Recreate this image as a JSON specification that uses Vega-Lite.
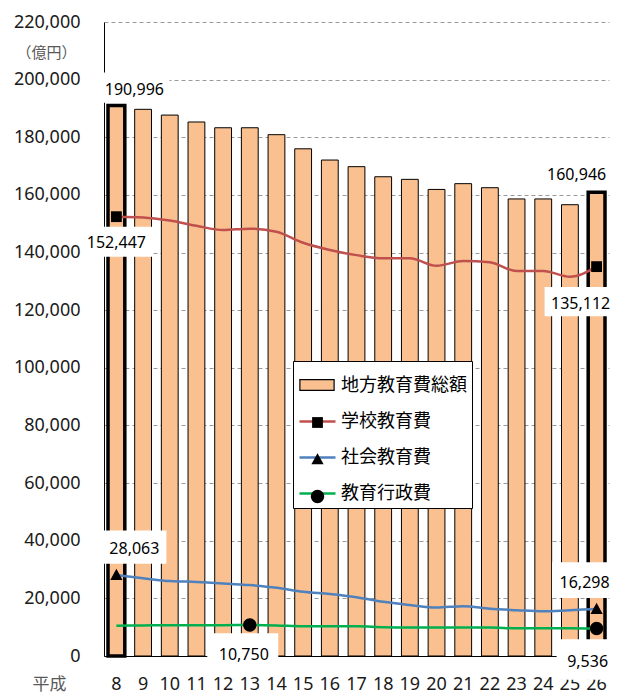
{
  "$schema": "https://vega.github.io/schema/vega-lite/v6.json",
  "width": 505,
  "height": 634,
  "autosize": "none",
  "padding": {"left": 104, "top": 22, "right": 9, "bottom": 40},
  "background": "white",
  "config": {"view": {"stroke": null}, "font": "Noto Sans", "bar": {"stroke": "#000000"}},
  "data": {"values": [
    {"year": 8, "地方教育費総額": 190996, "学校教育費": 152447, "社会教育費": 28063, "教育行政費": 10500},
    {"year": 9, "地方教育費総額": 189700, "学校教育費": 152200, "社会教育費": 27000, "教育行政費": 10600},
    {"year": 10, "地方教育費総額": 187700, "学校教育費": 151100, "社会教育費": 26000, "教育行政費": 10700},
    {"year": 11, "地方教育費総額": 185300, "学校教育費": 149300, "社会教育費": 25700, "教育行政費": 10700},
    {"year": 12, "地方教育費総額": 183300, "学校教育費": 147800, "社会教育費": 25200, "教育行政費": 10700},
    {"year": 13, "地方教育費総額": 183300, "学校教育費": 148300, "社会教育費": 24600, "教育行政費": 10750},
    {"year": 14, "地方教育費総額": 180900, "学校教育費": 147200, "社会教育費": 23700, "教育行政費": 10600},
    {"year": 15, "地方教育費総額": 176000, "学校教育費": 143400, "社会教育費": 22300, "教育行政費": 10300},
    {"year": 16, "地方教育費総額": 172100, "学校教育費": 140900, "社会教育費": 21500, "教育行政費": 10300},
    {"year": 17, "地方教育費総額": 169800, "学校教育費": 139100, "社会教育費": 20400, "教育行政費": 10300},
    {"year": 18, "地方教育費総額": 166300, "学校教育費": 138000, "社会教育費": 18800, "教育行政費": 10000},
    {"year": 19, "地方教育費総額": 165400, "学校教育費": 138000, "社会教育費": 17700, "教育行政費": 9900},
    {"year": 20, "地方教育費総額": 161900, "学校教育費": 135400, "社会教育費": 16800, "教育行政費": 9900},
    {"year": 21, "地方教育費総額": 163900, "学校教育費": 137100, "社会教育費": 17300, "教育行政費": 9900},
    {"year": 22, "地方教育費総額": 162500, "学校教育費": 136600, "社会教育費": 16400, "教育行政費": 9900},
    {"year": 23, "地方教育費総額": 158600, "学校教育費": 133600, "社会教育費": 15900, "教育行政費": 9600},
    {"year": 24, "地方教育費総額": 158600, "学校教育費": 133600, "社会教育費": 15500, "教育行政費": 9600},
    {"year": 25, "地方教育費総額": 156600, "学校教育費": 131600, "社会教育費": 15900, "教育行政費": 9600},
    {"year": 26, "地方教育費総額": 160946, "学校教育費": 135112, "社会教育費": 16298, "教育行政費": 9536}
  ]},
  "transform": [
    {"fold": ["地方教育費総額", "学校教育費", "社会教育費", "教育行政費"], "as": ["series", "value"]}
  ],
  "encoding": {
    "x": {
      "field": "year", "type": "ordinal",
      "scale": {"paddingInner": 0.37, "paddingOuter": 0.15},
      "axis": {
        "title": "平成", "titleX": -55, "titleY": 20, "titleAlign": "center", "titleBaseline": "top", "titleAngle": 0,
        "titleFont": "Noto Sans CJK JP", "titleFontSize": 17, "titleFontWeight": "normal", "titleColor": "#595959",
        "labelAngle": 0, "labelFont": "Noto Sans", "labelFontSize": 18, "labelColor": "#1a1a1a", "labelPadding": 19,
        "labelOverlap": false, "ticks": false, "domainColor": "#000000", "domainWidth": 1, "grid": false
      }
    },
    "y": {
      "field": "value", "type": "quantitative",
      "scale": {"domain": [0, 220000], "nice": false},
      "axis": {
        "title": "（億円）", "titleAngle": 0, "titleX": -58, "titleY": 30, "titleAlign": "center", "titleBaseline": "middle",
        "titleFont": "Noto Sans CJK JP", "titleFontSize": 15, "titleFontWeight": "normal", "titleColor": "#595959",
        "values": [0, 20000, 40000, 60000, 80000, 100000, 120000, 140000, 160000, 180000, 200000, 220000],
        "labelExpr": "format(datum.value, ',')", "labelFont": "Noto Sans", "labelFontSize": 18, "labelColor": "#1a1a1a", "labelPadding": 24,
        "ticks": false, "domainColor": "#000000", "domainWidth": 1,
        "grid": true, "gridDash": [4, 3], "gridColor": "#9a9a9a", "gridWidth": 1
      }
    }
  },
  "layer": [
    {
      "transform": [{"filter": "datum.series === '地方教育費総額'"}],
      "mark": {"type": "bar", "stroke": "#000000"},
      "encoding": {
        "fill": {
          "field": "series", "type": "nominal",
          "scale": {"domain": ["地方教育費総額"], "range": ["#FAC090"]},
          "legend": {
            "orient": "none", "legendX": 189, "legendY": 339, "title": null, "direction": "vertical",
            "symbolType": "M-0.95,-0.3L0.95,-0.3L0.95,0.3L-0.95,0.3Z", "symbolSize": 1296,
            "symbolStrokeColor": "#000000", "symbolStrokeWidth": 1.2, "symbolOpacity": 1,
            "rowPadding": 7, "padding": 5, "labelOffset": 4, "labelExpr": "' '",
            "labelFont": "Noto Sans CJK JP", "labelFontSize": 18, "labelOpacity": 0, "labelLimit": 300, "zindex": 2
          }
        },
        "strokeWidth": {"condition": {"test": "datum.year === 8 || datum.year === 26", "value": 3.5}, "value": 1}
      }
    },
    {
      "transform": [{"filter": "datum.series !== '地方教育費総額'"}],
      "mark": {"type": "line", "interpolate": "monotone", "strokeWidth": 2.5},
      "encoding": {
        "stroke": {
          "field": "series", "type": "nominal",
          "scale": {"domain": ["地方教育費総額", "学校教育費", "社会教育費", "教育行政費"], "range": ["transparent", "#C0504D", "#4F81BD", "#00B050"]},
          "legend": {
            "orient": "none", "legendX": 189, "legendY": 339, "title": null, "direction": "vertical",
            "symbolType": "M-1,0L1,0", "symbolSize": 1296, "symbolStrokeWidth": 2.5, "symbolOpacity": 1,
            "rowPadding": 7, "padding": 5, "labelOffset": 4,
            "labelFont": "Noto Sans CJK JP", "labelFontSize": 18, "labelColor": "#000000", "labelLimit": 300,
            "fillColor": "white", "strokeColor": "#000000", "zindex": 1
          }
        }
      }
    },
    {
      "transform": [{"filter": "((datum.series === '学校教育費' || datum.series === '社会教育費') && (datum.year === 8 || datum.year === 26)) || (datum.series === '教育行政費' && (datum.year === 13 || datum.year === 26))"}],
      "mark": {"type": "point", "filled": true, "color": "#000000", "opacity": 1, "size": 1296, "strokeWidth": 0},
      "encoding": {
        "shape": {
          "field": "series", "type": "nominal",
          "scale": {
            "domain": ["学校教育費", "社会教育費", "教育行政費"],
            "range": ["M-0.3,-0.3L0.3,-0.3L0.3,0.3L-0.3,0.3Z", "M0,-0.35L0.34,0.27L-0.34,0.27Z", "M0.37,0A0.37,0.37,0,1,1,-0.37,0A0.37,0.37,0,1,1,0.37,0Z"]
          },
          "legend": {
            "orient": "none", "legendX": 189, "legendY": 376, "title": null, "direction": "vertical",
            "symbolSize": 1296, "symbolStrokeWidth": 2.5, "symbolStrokeColor": "transparent", "symbolFillColor": "#000000", "symbolOpacity": 1,
            "rowPadding": 7, "padding": 5, "labelOffset": 4, "labelExpr": "' '",
            "labelFont": "Noto Sans CJK JP", "labelFontSize": 18, "labelOpacity": 0, "labelLimit": 300, "zindex": 2
          }
        }
      }
    },
    {
      "transform": [{"filter": "datum.series === '地方教育費総額' && datum.year === 8"}],
      "mark": {"type": "point", "shape": "M-1,-0.43L1,-0.43L1,0.43L-1,0.43Z", "size": 4900, "filled": true, "fill": "white", "strokeWidth": 0, "opacity": 1, "xOffset": 18, "yOffset": -18}
    },
    {
      "transform": [{"filter": "datum.series === '地方教育費総額' && datum.year === 26"}],
      "mark": {"type": "point", "shape": "M-1,-0.41L1,-0.41L1,0.41L-1,0.41Z", "size": 4624, "filled": true, "fill": "white", "strokeWidth": 0, "opacity": 1, "xOffset": -20, "yOffset": -18}
    },
    {
      "transform": [{"filter": "datum.series === '学校教育費' && datum.year === 8"}],
      "mark": {"type": "point", "shape": "M-1,-0.44L1,-0.44L1,0.44L-1,0.44Z", "size": 4624, "filled": true, "fill": "white", "strokeWidth": 0, "opacity": 1, "xOffset": 2, "yOffset": 25}
    },
    {
      "transform": [{"filter": "datum.series === '学校教育費' && datum.year === 26"}],
      "mark": {"type": "point", "shape": "M-1,-0.43L1,-0.43L1,0.43L-1,0.43Z", "size": 4624, "filled": true, "fill": "white", "strokeWidth": 0, "opacity": 1, "xOffset": -18, "yOffset": 35}
    },
    {
      "transform": [{"filter": "datum.series === '社会教育費' && datum.year === 8"}],
      "mark": {"type": "point", "shape": "M-1,-0.52L1,-0.52L1,0.52L-1,0.52Z", "size": 4096, "filled": true, "fill": "white", "strokeWidth": 0, "opacity": 1, "xOffset": 18, "yOffset": -28}
    },
    {
      "transform": [{"filter": "datum.series === '教育行政費' && datum.year === 13"}],
      "mark": {"type": "point", "shape": "M-1,-0.5L1,-0.5L1,0.5L-1,0.5Z", "size": 5041, "filled": true, "fill": "white", "strokeWidth": 0, "opacity": 1, "xOffset": -7, "yOffset": 26}
    },
    {
      "transform": [{"filter": "datum.series === '社会教育費' && datum.year === 26"}],
      "mark": {"type": "point", "shape": "M-1,-0.55L1,-0.55L1,0.55L-1,0.55Z", "size": 4225, "filled": true, "fill": "white", "strokeWidth": 0, "opacity": 1, "xOffset": -12, "yOffset": -29}
    },
    {
      "transform": [{"filter": "datum.series === '教育行政費' && datum.year === 26"}],
      "mark": {"type": "point", "shape": "M-1,-0.65L1,-0.65L1,0.65L-1,0.65Z", "size": 3844, "filled": true, "fill": "white", "strokeWidth": 0, "opacity": 1, "xOffset": -9, "yOffset": 31}
    },
    {
      "transform": [{"filter": "datum.series === '地方教育費総額' && datum.year === 8"}],
      "mark": {"type": "text", "font": "Noto Sans", "fontSize": 16, "color": "#000000", "dx": 18, "dy": -16},
      "encoding": {"text": {"field": "value", "type": "quantitative", "format": ","}}
    },
    {
      "transform": [{"filter": "datum.series === '地方教育費総額' && datum.year === 26"}],
      "mark": {"type": "text", "font": "Noto Sans", "fontSize": 16, "color": "#000000", "dx": -20, "dy": -17},
      "encoding": {"text": {"field": "value", "type": "quantitative", "format": ","}}
    },
    {
      "transform": [{"filter": "datum.series === '学校教育費' && datum.year === 8"}],
      "mark": {"type": "text", "font": "Noto Sans", "fontSize": 16, "color": "#000000", "dx": 0, "dy": 26},
      "encoding": {"text": {"field": "value", "type": "quantitative", "format": ","}}
    },
    {
      "transform": [{"filter": "datum.series === '学校教育費' && datum.year === 26"}],
      "mark": {"type": "text", "font": "Noto Sans", "fontSize": 16, "color": "#000000", "dx": -16, "dy": 37},
      "encoding": {"text": {"field": "value", "type": "quantitative", "format": ","}}
    },
    {
      "transform": [{"filter": "datum.series === '社会教育費' && datum.year === 8"}],
      "mark": {"type": "text", "font": "Noto Sans", "fontSize": 16, "color": "#000000", "dx": 18, "dy": -26},
      "encoding": {"text": {"field": "value", "type": "quantitative", "format": ","}}
    },
    {
      "transform": [{"filter": "datum.series === '教育行政費' && datum.year === 13"}],
      "mark": {"type": "text", "font": "Noto Sans", "fontSize": 16, "color": "#000000", "dx": -6, "dy": 30},
      "encoding": {"text": {"field": "value", "type": "quantitative", "format": ","}}
    },
    {
      "transform": [{"filter": "datum.series === '社会教育費' && datum.year === 26"}],
      "mark": {"type": "text", "font": "Noto Sans", "fontSize": 16, "color": "#000000", "dx": -12, "dy": -26},
      "encoding": {"text": {"field": "value", "type": "quantitative", "format": ","}}
    },
    {
      "transform": [{"filter": "datum.series === '教育行政費' && datum.year === 26"}],
      "mark": {"type": "text", "font": "Noto Sans", "fontSize": 16, "color": "#000000", "dx": -9, "dy": 33},
      "encoding": {"text": {"field": "value", "type": "quantitative", "format": ","}}
    }
  ]
}
